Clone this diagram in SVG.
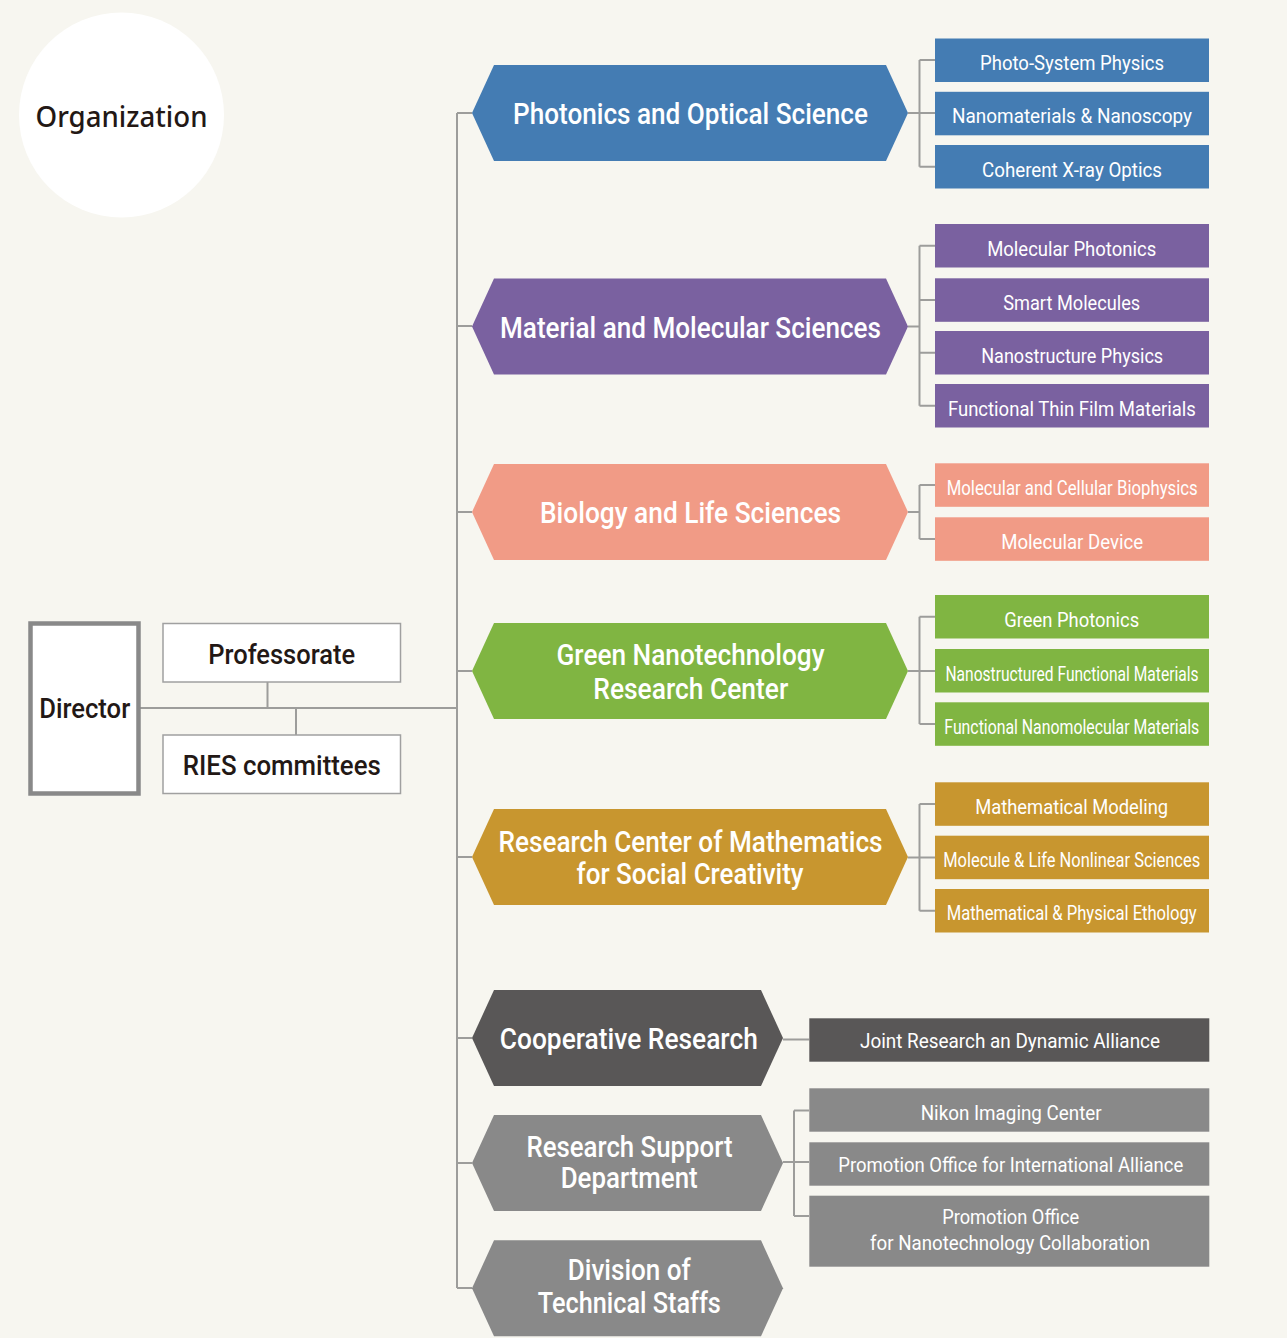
<svg xmlns="http://www.w3.org/2000/svg" width="1287" height="1338" viewBox="0 0 1287 1338">
  <style>
    .bg { fill: #f7f6f0; }
    .link { fill: none; stroke: #9d9d9b; stroke-width: 2; }
    .hex-t { font-family: Roboto, "Liberation Sans", sans-serif; font-weight: 500; font-size: 30px; fill: #ffffff; text-anchor: middle; }
    .sub-t { font-family: Roboto, "Liberation Sans", sans-serif; font-weight: 400; font-size: 20px; fill: #ffffff; text-anchor: middle; }
    .box-t { font-family: Roboto, "Liberation Sans", sans-serif; font-weight: 500; font-size: 27px; fill: #231815; text-anchor: middle; }
    .blue { fill: #447cb3; }
    .purple { fill: #7a61a0; }
    .salmon { fill: #f19b86; }
    .green { fill: #80b542; }
    .gold { fill: #c8962f; }
    .dark { fill: #595757; }
    .grey { fill: #898989; }
  </style>
  <defs>
    <!-- wide hexagon for research divisions, centred on its own origin -->
    <polygon id="hexL" points="-218,0 -196,-48 196,-48 218,0 196,48 -196,48"/>
    <!-- narrower hexagon for the lower units -->
    <polygon id="hexS" points="-155.5,0 -133.5,-48 133.5,-48 155.5,0 133.5,48 -133.5,48"/>
  </defs>

  <rect class="bg" x="0" y="0" width="1287" height="1338"/>

  <!-- title badge -->
  <g id="title">
    <circle cx="121.5" cy="115" r="102.5" fill="#ffffff"/>
    <text x="121.5" y="126.7" font-family="'Noto Sans', 'Open Sans', sans-serif" font-size="29" font-weight="500" fill="#231815" text-anchor="middle" textLength="172" lengthAdjust="spacingAndGlyphs">Organization</text>
  </g>

  <!-- connectors -->
  <g id="connectors" class="link">
    <!-- director bus and trunk -->
    <path d="M140,708 H457"/>
    <path d="M267.5,682 V708"/>
    <path d="M296,708 V735"/>
    <path d="M457,113 V1288"/>
    <path d="M457,113 H472 M457,326 H472 M457,512 H472 M457,671 H472 M457,857 H472 M457,1038 H472 M457,1163 H472 M457,1288 H472"/>
    <!-- Photonics -->
    <path d="M908,113 H935 M919.5,60 V166.8 M919.5,60 H935 M919.5,166.8 H935"/>
    <!-- Material -->
    <path d="M908,326.5 H919.5 M919.5,245.8 V405.8 M919.5,245.8 H935 M919.5,300 H935 M919.5,352.8 H935 M919.5,405.8 H935"/>
    <!-- Biology -->
    <path d="M908,512 H919.5 M919.5,485 V539 M919.5,485 H935 M919.5,539 H935"/>
    <!-- Green -->
    <path d="M908,671 H935 M919.5,616.8 V724 M919.5,616.8 H935 M919.5,724 H935"/>
    <!-- Mathematics -->
    <path d="M908,857.5 H935 M919.5,804 V910.8 M919.5,804 H935 M919.5,910.8 H935"/>
    <!-- Cooperative -->
    <path d="M783,1039.5 H809"/>
    <!-- Research Support -->
    <path d="M783,1162 H809 M794,1110.5 V1216 M794,1110.5 H809 M794,1216 H809"/>
  </g>

  <!-- administration -->
  <g id="director">
    <rect x="30.5" y="623.5" width="108" height="170" fill="#ffffff" stroke="#898989" stroke-width="4.5"/>
    <text class="box-t" x="84.7" y="718.3" textLength="91" lengthAdjust="spacingAndGlyphs">Director</text>
  </g>
  <g id="professorate">
    <rect x="163" y="623.5" width="237.5" height="58.5" fill="#ffffff" stroke="#a0a0a0" stroke-width="1.5"/>
    <text class="box-t" x="281.7" y="664" textLength="147" lengthAdjust="spacingAndGlyphs">Professorate</text>
  </g>
  <g id="ries">
    <rect x="163" y="735" width="237.5" height="58.5" fill="#ffffff" stroke="#a0a0a0" stroke-width="1.5"/>
    <text class="box-t" x="281.8" y="775" textLength="198" lengthAdjust="spacingAndGlyphs">RIES committees</text>
  </g>

  <!-- Photonics and Optical Science -->
  <g id="photonics">
    <use href="#hexL" x="690" y="113" class="blue"/>
    <text class="hex-t" x="690.5" y="124.3" textLength="355" lengthAdjust="spacingAndGlyphs">Photonics and Optical Science</text>
  </g>
  <g id="photo-system">
    <rect class="blue" x="935" y="38.5" width="274" height="43.5"/>
    <text class="sub-t" x="1072" y="70" textLength="184" lengthAdjust="spacingAndGlyphs">Photo-System Physics</text>
  </g>
  <g id="nanomaterials">
    <rect class="blue" x="935" y="91.8" width="274" height="43.5"/>
    <text class="sub-t" x="1072" y="123.3" textLength="240" lengthAdjust="spacingAndGlyphs">Nanomaterials &amp; Nanoscopy</text>
  </g>
  <g id="xray">
    <rect class="blue" x="935" y="145" width="274" height="43.5"/>
    <text class="sub-t" x="1072" y="176.5" textLength="180" lengthAdjust="spacingAndGlyphs">Coherent X-ray Optics</text>
  </g>

  <!-- Material and Molecular Sciences -->
  <g id="material">
    <use href="#hexL" x="690" y="326.5" class="purple"/>
    <text class="hex-t" x="690.5" y="337.8" textLength="381" lengthAdjust="spacingAndGlyphs">Material and Molecular Sciences</text>
  </g>
  <g id="mol-photonics">
    <rect class="purple" x="935" y="224" width="274" height="43.5"/>
    <text class="sub-t" x="1071.7" y="255.7" textLength="169" lengthAdjust="spacingAndGlyphs">Molecular Photonics</text>
  </g>
  <g id="smart">
    <rect class="purple" x="935" y="278.3" width="274" height="43.5"/>
    <text class="sub-t" x="1071.7" y="309.8" textLength="137" lengthAdjust="spacingAndGlyphs">Smart Molecules</text>
  </g>
  <g id="nanostructure">
    <rect class="purple" x="935" y="331" width="274" height="43.5"/>
    <text class="sub-t" x="1072.2" y="362.5" textLength="182" lengthAdjust="spacingAndGlyphs">Nanostructure Physics</text>
  </g>
  <g id="thin-film">
    <rect class="purple" x="935" y="384" width="274" height="43.5"/>
    <text class="sub-t" x="1071.9" y="415.5" textLength="248" lengthAdjust="spacingAndGlyphs">Functional Thin Film Materials</text>
  </g>

  <!-- Biology and Life Sciences -->
  <g id="biology">
    <use href="#hexL" x="690" y="512" class="salmon"/>
    <text class="hex-t" x="690.5" y="523.3" textLength="301" lengthAdjust="spacingAndGlyphs">Biology and Life Sciences</text>
  </g>
  <g id="biophysics">
    <rect class="salmon" x="935" y="463.3" width="274" height="43.5"/>
    <text class="sub-t" x="1072.2" y="494.8" textLength="251" lengthAdjust="spacingAndGlyphs">Molecular and Cellular Biophysics</text>
  </g>
  <g id="mol-device">
    <rect class="salmon" x="935" y="517.3" width="274" height="43.5"/>
    <text class="sub-t" x="1072.2" y="548.8" textLength="142" lengthAdjust="spacingAndGlyphs">Molecular Device</text>
  </g>

  <!-- Green Nanotechnology Research Center -->
  <g id="green-nano">
    <use href="#hexL" x="690" y="671" class="green"/>
    <text class="hex-t" x="690.5" y="665" textLength="268" lengthAdjust="spacingAndGlyphs">Green Nanotechnology</text>
    <text class="hex-t" x="690.8" y="698.5" textLength="195" lengthAdjust="spacingAndGlyphs">Research Center</text>
  </g>
  <g id="green-photonics">
    <rect class="green" x="935" y="595" width="274" height="43.5"/>
    <text class="sub-t" x="1071.7" y="626.5" textLength="135" lengthAdjust="spacingAndGlyphs">Green Photonics</text>
  </g>
  <g id="nanostructured">
    <rect class="green" x="935" y="649" width="274" height="43.5"/>
    <text class="sub-t" x="1072" y="680.5" textLength="253" lengthAdjust="spacingAndGlyphs">Nanostructured Functional Materials</text>
  </g>
  <g id="nanomolecular">
    <rect class="green" x="935" y="702.3" width="274" height="43.5"/>
    <text class="sub-t" x="1071.8" y="733.8" textLength="255" lengthAdjust="spacingAndGlyphs">Functional Nanomolecular Materials</text>
  </g>

  <!-- Research Center of Mathematics for Social Creativity -->
  <g id="mathematics">
    <use href="#hexL" x="690" y="857" class="gold"/>
    <text class="hex-t" x="690.5" y="851.7" textLength="384" lengthAdjust="spacingAndGlyphs">Research Center of Mathematics</text>
    <text class="hex-t" x="690" y="884.3" textLength="227" lengthAdjust="spacingAndGlyphs">for Social Creativity</text>
  </g>
  <g id="math-modeling">
    <rect class="gold" x="935" y="782.3" width="274" height="43.5"/>
    <text class="sub-t" x="1071.7" y="813.5" textLength="193" lengthAdjust="spacingAndGlyphs">Mathematical Modeling</text>
  </g>
  <g id="nonlinear">
    <rect class="gold" x="935" y="835.7" width="274" height="43.5"/>
    <text class="sub-t" x="1071.7" y="866.9" textLength="257" lengthAdjust="spacingAndGlyphs">Molecule &amp; Life Nonlinear Sciences</text>
  </g>
  <g id="ethology">
    <rect class="gold" x="935" y="889" width="274" height="43.5"/>
    <text class="sub-t" x="1071.7" y="920.2" textLength="250" lengthAdjust="spacingAndGlyphs">Mathematical &amp; Physical Ethology</text>
  </g>

  <!-- Cooperative Research -->
  <g id="cooperative">
    <use href="#hexS" x="627.5" y="1038" class="dark"/>
    <text class="hex-t" x="628.8" y="1048.5" textLength="258" lengthAdjust="spacingAndGlyphs">Cooperative Research</text>
  </g>
  <g id="joint-research">
    <rect class="dark" x="809.3" y="1018.3" width="400" height="43.4"/>
    <text class="sub-t" x="1010" y="1048.3" textLength="300" lengthAdjust="spacingAndGlyphs">Joint Research an Dynamic Alliance</text>
  </g>

  <!-- Research Support Department -->
  <g id="research-support">
    <use href="#hexS" x="627.5" y="1163" class="grey"/>
    <text class="hex-t" x="629.5" y="1156.7" textLength="206" lengthAdjust="spacingAndGlyphs">Research Support</text>
    <text class="hex-t" x="629.2" y="1188.3" textLength="137" lengthAdjust="spacingAndGlyphs">Department</text>
  </g>
  <g id="nikon">
    <rect class="grey" x="809.3" y="1088.3" width="400" height="43.4"/>
    <text class="sub-t" x="1011.2" y="1120" textLength="181" lengthAdjust="spacingAndGlyphs">Nikon Imaging Center</text>
  </g>
  <g id="international">
    <rect class="grey" x="809.3" y="1142.3" width="400" height="43.4"/>
    <text class="sub-t" x="1010.8" y="1171.7" textLength="345" lengthAdjust="spacingAndGlyphs">Promotion Office for International Alliance</text>
  </g>
  <g id="nano-collab">
    <rect class="grey" x="809.3" y="1195.7" width="400" height="71"/>
    <text class="sub-t" x="1010.7" y="1224" textLength="137" lengthAdjust="spacingAndGlyphs">Promotion Office</text>
    <text class="sub-t" x="1010" y="1250" textLength="280" lengthAdjust="spacingAndGlyphs">for Nanotechnology Collaboration</text>
  </g>

  <!-- Division of Technical Staffs -->
  <g id="technical-staffs">
    <use href="#hexS" x="627.5" y="1288.3" class="grey"/>
    <text class="hex-t" x="629.3" y="1280" textLength="123" lengthAdjust="spacingAndGlyphs">Division of</text>
    <text class="hex-t" x="629.3" y="1313.3" textLength="183" lengthAdjust="spacingAndGlyphs">Technical Staffs</text>
  </g>
</svg>
